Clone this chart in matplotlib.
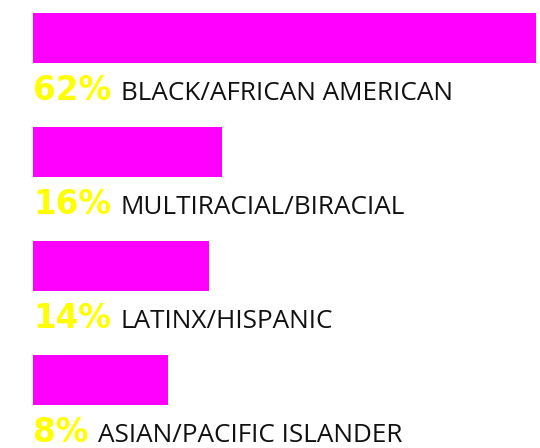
import matplotlib
matplotlib.use("Agg")
import matplotlib.pyplot as plt
import matplotlib.transforms as mtransforms
import numpy as np

categories = ["BLACK/AFRICAN AMERICAN", "MULTIRACIAL/BIRACIAL", "LATINX/HISPANIC", "ASIAN/PACIFIC ISLANDER"]
values = [62, 16, 14, 8]

BASE = -11.7          # value at which bars start (axis origin of the original scale)
BAR_COLOR = "#FF00FF"
PCT_COLOR = "#FFFF00"

fig = plt.figure(figsize=(5.4, 4.48), dpi=100)
ax = fig.add_axes([0, 0, 1, 1])
ax.set_xlim(-16.53, 62.53)
ax.set_ylim(3.596, -0.333)
ax.axis("off")

y = np.arange(len(values))
ax.barh(y, np.array(values) - BASE, left=BASE, height=0.44, color=BAR_COLOR)

fig.canvas.draw()
renderer = fig.canvas.get_renderer()
blend = mtransforms.blended_transform_factory(mtransforms.IdentityTransform(), ax.transData)
for yi, v, cat in zip(y, values, categories):
    t = ax.text(BASE, yi + 0.547, f"{v}%", color=PCT_COLOR, fontsize=23.5,
                fontfamily="DejaVu Sans", fontweight="bold", va="baseline", ha="left")
    bb = t.get_window_extent(renderer=renderer)
    ax.text(bb.x1 + 10, yi + 0.547, cat, transform=blend,
            fontsize=18.8, fontfamily="Open Sans", color="#111111",
            va="baseline", ha="left")

fig.savefig("out.png", dpi=100)
